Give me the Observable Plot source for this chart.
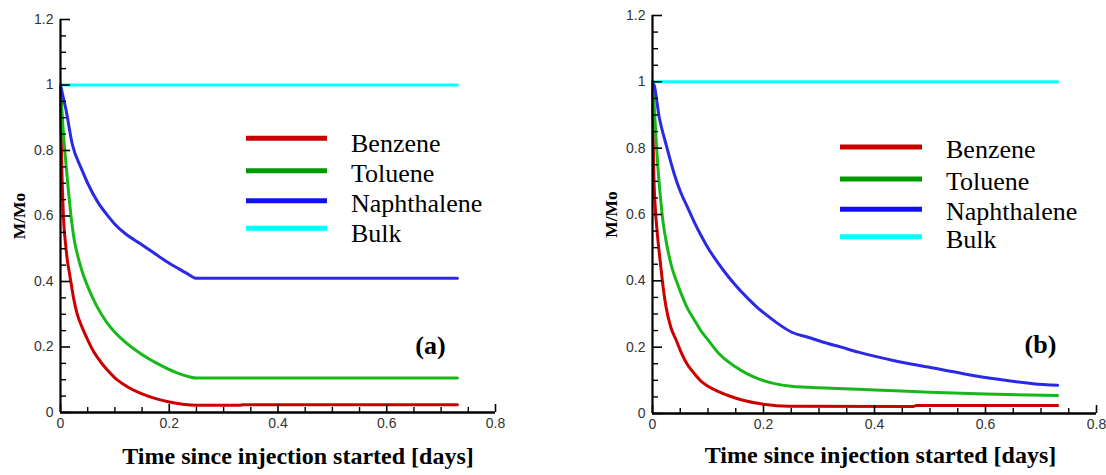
<!DOCTYPE html>
<html>
<head>
<meta charset="utf-8">
<script src="https://cdn.jsdelivr.net/npm/d3@7"></script>
<script src="https://cdn.jsdelivr.net/npm/@observablehq/plot@0.6"></script>
<style>
  html, body { margin: 0; padding: 0; background: #fff; }
  #wrap { position: relative; width: 1106px; height: 475px; background: #fff; overflow: hidden; }
  #wrap > svg, #wrap > figure { position: absolute; top: 0; margin: 0; }
</style>
</head>
<body>
<div id="wrap"></div>
<script>
// ---------- tick labels ----------
const xTicks = [0, 0.2, 0.4, 0.6, 0.8];
const yTicks = [0, 0.2, 0.4, 0.6, 0.8, 1, 1.2];
const xMinorTicks = [0.05, 0.1, 0.15, 0.25, 0.3, 0.35, 0.45, 0.5, 0.55, 0.65, 0.7, 0.75];
const yMinorTicks = [0.05, 0.1, 0.15, 0.25, 0.3, 0.35, 0.45, 0.5, 0.55, 0.65, 0.7, 0.75, 0.85, 0.9, 0.95, 1.05, 1.1, 1.15];

// ---------- categories ----------
const seriesNames = ["Benzene", "Toluene", "Naphthalene", "Bulk"];
const panelLabels = ["(a)", "(b)"];
const xTitle = "Time since injection started [days]";
const yTitle = "M/Mo";

// ---------- panel (a) ----------
const tBenzeneA = [0, 0.001, 0.002, 0.004, 0.006, 0.009, 0.013, 0.017, 0.024, 0.03, 0.04, 0.05, 0.062, 0.075, 0.085, 0.1, 0.12, 0.15, 0.18, 0.2, 0.225, 0.25, 0.33, 0.335, 0.73];
const mBenzeneA = [1, 0.88, 0.78, 0.66, 0.58, 0.52, 0.46, 0.42, 0.35, 0.305, 0.259, 0.222, 0.183, 0.152, 0.132, 0.106, 0.082, 0.057, 0.040, 0.032, 0.025, 0.022, 0.022, 0.024, 0.024];
const tTolueneA = [0, 0.002, 0.005, 0.01, 0.015, 0.02, 0.025, 0.03, 0.04, 0.05, 0.065, 0.085, 0.1, 0.117, 0.149, 0.181, 0.213, 0.235, 0.25, 0.73];
const mTolueneA = [1, 0.94, 0.86, 0.76, 0.67, 0.59, 0.53, 0.49, 0.43, 0.385, 0.33, 0.275, 0.245, 0.218, 0.178, 0.147, 0.122, 0.11, 0.105, 0.105];
const tNaphthaleneA = [0, 0.004, 0.01, 0.022, 0.038, 0.05, 0.068, 0.085, 0.1, 0.12, 0.136, 0.149, 0.17, 0.194, 0.215, 0.233, 0.25, 0.73];
const mNaphthaleneA = [1, 0.97, 0.925, 0.817, 0.746, 0.7, 0.644, 0.605, 0.575, 0.545, 0.527, 0.513, 0.489, 0.462, 0.441, 0.424, 0.41, 0.41];
const tBulkA = [0, 0.73];
const mBulkA = [1, 1];

// ---------- panel (b) ----------
const tBenzeneB = [0, 0.001, 0.002, 0.005, 0.008, 0.0145, 0.02, 0.024, 0.033, 0.043, 0.052, 0.062, 0.075, 0.087, 0.1, 0.119, 0.14, 0.163, 0.2, 0.245, 0.47, 0.475, 0.73];
const mBenzeneB = [1, 0.86, 0.75, 0.62, 0.555, 0.45, 0.37, 0.325, 0.26, 0.22, 0.183, 0.15, 0.121, 0.098, 0.082, 0.066, 0.052, 0.04, 0.028, 0.022, 0.021, 0.024, 0.024];
const tTolueneB = [0, 0.003, 0.006, 0.009, 0.015, 0.018, 0.024, 0.035, 0.043, 0.052, 0.062, 0.075, 0.087, 0.1, 0.12, 0.15, 0.17, 0.19, 0.22, 0.25, 0.28, 0.4, 0.5, 0.6, 0.73];
const mTolueneB = [1, 0.93, 0.84, 0.76, 0.64, 0.59, 0.525, 0.44, 0.4, 0.36, 0.321, 0.283, 0.25, 0.222, 0.18, 0.14, 0.12, 0.105, 0.09, 0.082, 0.079, 0.071, 0.064, 0.059, 0.054];
const tNaphthaleneB = [0, 0.003, 0.012, 0.024, 0.039, 0.05, 0.063, 0.075, 0.087, 0.1, 0.119, 0.135, 0.15, 0.17, 0.188, 0.207, 0.226, 0.251, 0.28, 0.308, 0.34, 0.371, 0.434, 0.497, 0.56, 0.623, 0.686, 0.73];
const mNaphthaleneB = [1, 0.99, 0.894, 0.814, 0.723, 0.67, 0.622, 0.578, 0.538, 0.499, 0.452, 0.416, 0.386, 0.35, 0.321, 0.295, 0.271, 0.245, 0.23, 0.215, 0.2, 0.185, 0.16, 0.14, 0.12, 0.103, 0.09, 0.085];
const tBulkB = [0, 0.73];
const mBulkB = [1, 1];

// ---------- styling ----------
const curveColors = ["#cc0000", "#18b818", "#2a2ae6", "#00ffff"];
const legendColors = ["#c80000", "#009900", "#1010f0", "#00ffff"];

function rows(name, t, m) { return t.map((d, i) => ({series: name, t: d, m: m[i]})); }

const dataA = [
  ...rows(seriesNames[0], tBenzeneA, mBenzeneA),
  ...rows(seriesNames[1], tTolueneA, mTolueneA),
  ...rows(seriesNames[2], tNaphthaleneA, mNaphthaleneA),
  ...rows(seriesNames[3], tBulkA, mBulkA)
];
const dataB = [
  ...rows(seriesNames[0], tBenzeneB, mBenzeneB),
  ...rows(seriesNames[1], tTolueneB, mTolueneB),
  ...rows(seriesNames[2], tNaphthaleneB, mNaphthaleneB),
  ...rows(seriesNames[3], tBulkB, mBulkB)
];

function panel(data, label, L) {
  const fw = L.width - L.marginLeft - L.marginRight;
  const fh = L.height - L.marginTop - L.marginBottom;
  const fmt = d => String(d);
  const svg = Plot.plot({
    width: L.width, height: L.height,
    marginLeft: L.marginLeft, marginRight: L.marginRight,
    marginTop: L.marginTop, marginBottom: L.marginBottom,
    style: "font-family: 'Liberation Sans', Arial, sans-serif; font-size: 14px; color: #333; background: transparent; overflow: visible;",
    x: {domain: [0, 0.8], ticks: xTicks, tickSize: 0, tickPadding: 6, tickFormat: fmt, label: null},
    y: {domain: [0, 1.2], ticks: yTicks, tickSize: 0, tickPadding: 7, tickFormat: fmt, label: null},
    color: {domain: seriesNames, range: curveColors},
    marks: [
      Plot.line(data, {x: "t", y: "m", z: "series", stroke: "series", strokeWidth: 3, curve: "monotone-x"}),
      Plot.tickY(yTicks, {y: d => d, stroke: "#000", strokeWidth: 1.6, insetRight: fw - 10}),
      Plot.tickY(yMinorTicks, {y: d => d, stroke: "#000", strokeWidth: 1.4, insetRight: fw - 6}),
      Plot.tickX(xTicks, {x: d => d, stroke: "#000", strokeWidth: 1.6, insetTop: fh - 8}),
      Plot.tickX(xMinorTicks, {x: d => d, stroke: "#000", strokeWidth: 1.4, insetTop: fh - 5}),
      Plot.ruleX([0], {stroke: "#000", strokeWidth: 2.2}),
      Plot.ruleY([0], {stroke: "#000", strokeWidth: 2.4}),
      Plot.text([xTitle], {frameAnchor: "bottom", dx: L.titleDx, dy: L.titleDy, lineAnchor: "bottom", textAnchor: "middle",
        fontFamily: "'Liberation Serif', 'Times New Roman', serif", fontWeight: "bold", fontSize: 24, fill: "#000"}),
      Plot.text([yTitle], {frameAnchor: "left", dx: -41, dy: 0, rotate: -90, textAnchor: "middle",
        fontFamily: "'Liberation Serif', 'Times New Roman', serif", fontWeight: "bold", fontSize: 17.5, fill: "#000"}),
      Plot.text([label], {frameAnchor: "bottom-right", dx: L.labelDx, dy: L.labelDy, textAnchor: "middle",
        fontFamily: "'Liberation Serif', 'Times New Roman', serif", fontWeight: "bold", fontSize: 26, fill: "#000"})
    ]
  });
  svg.style.left = L.left + "px";
  return svg;
}

const wrap = document.getElementById("wrap");
wrap.appendChild(panel(dataA, panelLabels[0], {
  left: 0, width: 553, height: 475, marginLeft: 60, marginRight: 58, marginTop: 19, marginBottom: 63,
  titleDx: 20, titleDy: 51, labelDx: -65, labelDy: -59
}));
wrap.appendChild(panel(dataB, panelLabels[1], {
  left: 553, width: 553, height: 475, marginLeft: 99, marginRight: 10, marginTop: 15, marginBottom: 62,
  titleDx: 6, titleDy: 49, labelDx: -56, labelDy: -61
}));

// ---------- in-plot legends ----------
const legendLayouts = [
  {x1: 246, x2: 327, tx: 351, lineY: [138.3, 170.7, 200.7, 228.3], baseY: [151.7, 181.7, 211.7, 241.7]},
  {x1: 840, x2: 922, tx: 946, lineY: [147, 179, 209.3, 236.7], baseY: [158.3, 190, 220, 248.3]}
];
const ov = d3.select(wrap).append("svg")
  .attr("width", 1106).attr("height", 475)
  .style("left", "0px").style("pointer-events", "none");
legendLayouts.forEach(lay => {
  const g = ov.append("g");
  seriesNames.forEach((name, i) => {
    g.append("line").attr("x1", lay.x1).attr("x2", lay.x2)
      .attr("y1", lay.lineY[i]).attr("y2", lay.lineY[i])
      .attr("stroke", legendColors[i]).attr("stroke-width", 5);
    g.append("text").attr("x", lay.tx).attr("y", lay.baseY[i])
      .attr("font-family", "'Liberation Serif', 'Times New Roman', serif")
      .attr("font-size", 26).attr("fill", "#000").text(name);
  });
});
</script>
</body>
</html>
